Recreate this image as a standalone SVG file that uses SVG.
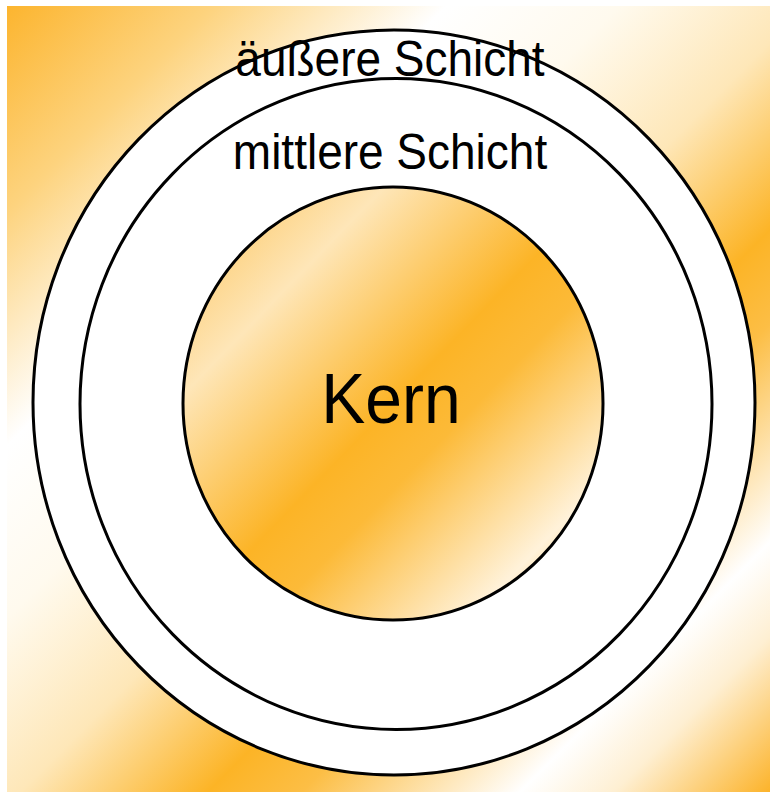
<svg xmlns="http://www.w3.org/2000/svg" width="770" height="796" viewBox="0 0 770 796">
  <defs>
    <linearGradient id="bgGrad" gradientUnits="userSpaceOnUse" x1="0" y1="0" x2="781" y2="781">
      <stop offset="0" stop-color="#FCB32A"/>
      <stop offset="0.14" stop-color="#FDD37E"/>
      <stop offset="0.29" stop-color="#FFFFFF"/>
      <stop offset="0.40" stop-color="#FFFAEE"/>
      <stop offset="0.52" stop-color="#FEE7B8"/>
      <stop offset="0.64" stop-color="#FCB426"/>
      <stop offset="0.70" stop-color="#FCBE45"/>
      <stop offset="0.84" stop-color="#FFFFFF"/>
      <stop offset="0.90" stop-color="#FEEFD2"/>
      <stop offset="1" stop-color="#FCB32A"/>
    </linearGradient>
    <linearGradient id="coreGrad" x1="0" y1="0" x2="1" y2="1">
      <stop offset="0" stop-color="#FCC050"/>
      <stop offset="0.24" stop-color="#FEE6B8"/>
      <stop offset="0.50" stop-color="#FCB426"/>
      <stop offset="0.60" stop-color="#FCBA38"/>
      <stop offset="0.84" stop-color="#FFF2DA"/>
      <stop offset="1" stop-color="#FCB62E"/>
    </linearGradient>
  </defs>
  <style>
    .ring { fill: #FFFFFF; stroke: #000000; stroke-width: 3; }
    .core { fill: url(#coreGrad); stroke: #000000; stroke-width: 3; }
    .lbl { font-family: "Liberation Sans", Arial, sans-serif; fill: #000000; text-anchor: middle; }
  </style>
  <rect x="0" y="0" width="770" height="796" fill="#FFFFFF"/>
  <rect id="background" x="7" y="6" width="763" height="786" fill="url(#bgGrad)"/>
  <g id="outer">
    <ellipse class="ring" cx="394" cy="402.5" rx="361" ry="372.5"/>
  </g>
  <g id="middle">
    <ellipse class="ring" cx="396" cy="404" rx="316" ry="325.5"/>
  </g>
  <g id="kern">
    <ellipse class="core" cx="393" cy="403.5" rx="210" ry="216.5"/>
  </g>
  <g id="connectors"></g>
  <g id="labels">
    <text class="lbl" transform="translate(390 76) scale(1 1.07)" font-size="46">äußere Schicht</text>
    <text class="lbl" transform="translate(390 169) scale(1 1.07)" font-size="46">mittlere Schicht</text>
    <text class="lbl" transform="translate(391 423) scale(1 1.06)" font-size="66">Kern</text>
  </g>
</svg>
